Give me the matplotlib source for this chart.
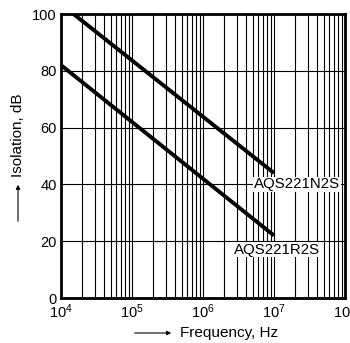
import matplotlib
matplotlib.use("Agg")
import matplotlib.pyplot as plt
import numpy as np
from matplotlib.ticker import LogLocator, FixedLocator

plt.rcParams['font.family'] = ['Liberation Sans', 'DejaVu Sans']
plt.rcParams['mathtext.fontset'] = 'custom'
plt.rcParams['mathtext.rm'] = 'Liberation Sans'
plt.rcParams['mathtext.it'] = 'Liberation Sans'
plt.rcParams['mathtext.bf'] = 'Liberation Sans'

# Data
n2s_freq = [1.5e4, 1e7]
n2s_iso = [100, 44]
r2s_freq = [1e4, 1e7]
r2s_iso = [82, 22]
series_labels = ["AQS221N2S", "AQS221R2S"]
y_ticks = [0, 20, 40, 60, 80, 100]
x_ticks = [1e4, 1e5, 1e6, 1e7, 1e8]

fig = plt.figure(figsize=(3.5, 3.43), dpi=100)
ax = fig.add_axes([61/350, 45/343, 284/350, 284/343])

ax.set_xscale('log')
ax.set_xlim(1e4, 1e8)
ax.set_ylim(0, 100)

ax.xaxis.set_major_locator(FixedLocator(x_ticks))
ax.xaxis.set_minor_locator(LogLocator(base=10, subs=np.arange(2, 10)))
ax.xaxis.set_minor_formatter(plt.NullFormatter())
ax.set_yticks(y_ticks)

ax.grid(True, which='major', axis='both', color='black', lw=0.8)
ax.grid(True, which='minor', axis='x', color='black', lw=0.8)
ax.tick_params(which='both', length=0, labelsize=10.5, pad=3)

for s in ax.spines.values():
    s.set_linewidth(2)

ax.plot(n2s_freq, n2s_iso, color='black', lw=2.8, solid_capstyle='butt', zorder=3)
ax.plot(r2s_freq, r2s_iso, color='black', lw=2.8, solid_capstyle='butt', zorder=3)

bbox = dict(facecolor='white', edgecolor='none', pad=0.5)
ax.text(10**6.72, 40, series_labels[0], fontsize=10.8, ha='left', va='center', bbox=bbox, zorder=4)
ax.text(10**6.44, 17, series_labels[1], fontsize=10.8, ha='left', va='center', bbox=bbox, zorder=4)

# Axis labels with arrows
fig.text(18/350, 1 - 135/343, "Isolation, dB", rotation=90, ha='center', va='center', fontsize=11)
fig.add_artist(matplotlib.patches.FancyArrowPatch((18/350, 1 - 224/343), (18/350, 1 - 182/343),
               transform=fig.transFigure, arrowstyle='-|>', mutation_scale=6, lw=0.8, color='black'))
fig.text(180/350, 1 - 333/343, "Frequency, Hz", ha='left', va='center', fontsize=11)
fig.add_artist(matplotlib.patches.FancyArrowPatch((132/350, 1 - 333/343), (174/350, 1 - 333/343),
               transform=fig.transFigure, arrowstyle='-|>', mutation_scale=6, lw=0.8, color='black'))

fig.savefig("out.png", dpi=100)
